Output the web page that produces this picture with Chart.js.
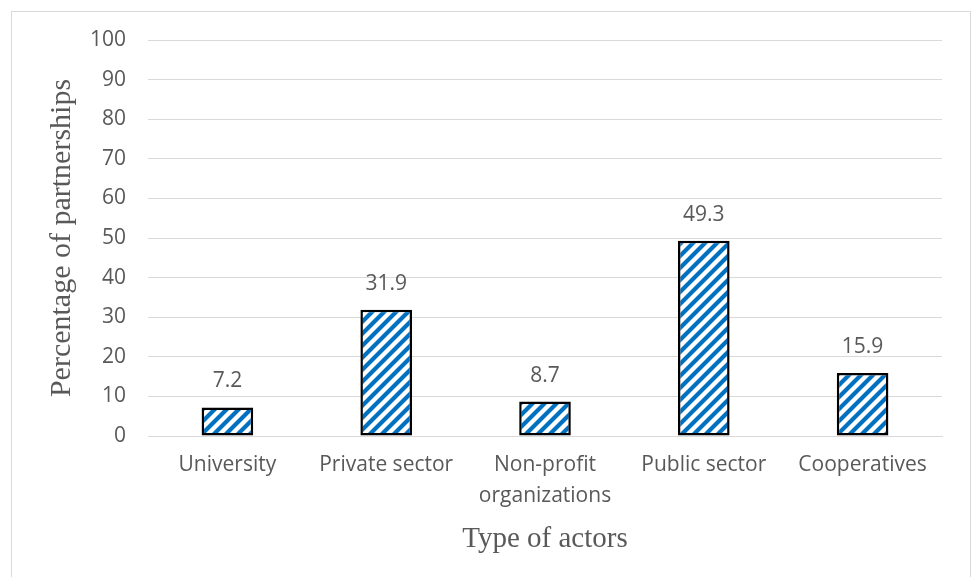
<!DOCTYPE html>
<html>
<head>
<meta charset="utf-8">
<script src="https://cdn.jsdelivr.net/npm/chart.js@4/dist/chart.umd.min.js"></script>
<style>
  html, body { margin: 0; padding: 0; background: #ffffff; }
  #wrap { position: relative; width: 972px; height: 577px; }
</style>
</head>
<body>
<div id="wrap"><canvas id="chart" width="972" height="577"></canvas></div>
<script>
// Partnership shares by type of actor (%)
const categories = ['University', 'Private sector', ['Non-profit', 'organizations'], 'Public sector', 'Cooperatives'];
const shares = [7.2, 31.9, 8.7, 49.3, 15.9];
const yMin = 0;
const yMax = 100;
const yStep = 10;

const xTitle = 'Type of actors';
const yTitle = 'Percentage of partnerships';

const TEXT_GREY = '#595959';
const GRID_GREY = '#d9d9d9';
const STRIPE_BLUE = '#0070C0';

// Diagonal-stripe fill for the bars
function stripePattern() {
  const size = 12;
  const c = document.createElement('canvas');
  c.width = size; c.height = size;
  const g = c.getContext('2d');
  g.fillStyle = '#ffffff';
  g.fillRect(0, 0, size, size);
  g.strokeStyle = STRIPE_BLUE;
  g.lineWidth = 4.2;
  g.beginPath();
  g.moveTo(-3, 3); g.lineTo(3, -3);
  g.moveTo(0, size); g.lineTo(size, 0);
  g.moveTo(size - 3, size + 3); g.lineTo(size + 3, size - 3);
  g.stroke();
  return g.createPattern(c, 'repeat');
}

const ctx = document.getElementById('chart').getContext('2d');

// Light frame around the figure
const framePlugin = {
  id: 'frame',
  beforeDraw(chart) {
    const g = chart.ctx;
    g.save();
    g.strokeStyle = GRID_GREY;
    g.lineWidth = 1;
    g.strokeRect(11.5, 11.5, 959, 600);
    g.restore();
  }
};

// Value labels above each bar
const valueLabels = {
  id: 'valueLabels',
  afterDatasetsDraw(chart) {
    const g = chart.ctx;
    const meta = chart.getDatasetMeta(0);
    const data = chart.data.datasets[0].data;
    g.save();
    g.font = '21px "Open Sans"';
    g.fillStyle = TEXT_GREY;
    g.textAlign = 'center';
    g.textBaseline = 'middle';
    meta.data.forEach((bar, i) => {
      g.fillText(data[i].toFixed(1), bar.x, bar.y - 26);
    });
    g.restore();
  }
};

new Chart(ctx, {
  type: 'bar',
  data: {
    labels: categories,
    datasets: [{
      data: shares,
      backgroundColor: stripePattern(),
      borderColor: '#000000',
      borderWidth: 2.5,
      borderSkipped: false,
      categoryPercentage: 1,
      barPercentage: 0.325
    }]
  },
  options: {
    responsive: false,
    animation: false,
    devicePixelRatio: 1,
    layout: { padding: { left: 0, right: 30, top: 40, bottom: 0 } },
    plugins: {
      legend: { display: false },
      tooltip: { enabled: false }
    },
    scales: {
      x: {
        grid: { display: false, drawTicks: false },
        border: { display: true, color: GRID_GREY, width: 1 },
        ticks: {
          color: TEXT_GREY,
          font: { family: 'Open Sans', size: 21, lineHeight: 1.5 },
          padding: 13,
          maxRotation: 0,
          autoSkip: false
        },
        title: {
          display: true,
          text: xTitle,
          color: TEXT_GREY,
          font: { family: 'Liberation Serif', size: 29 },
          padding: { top: 0, bottom: 20 }
        },
        afterFit(scale) { scale.height = 141; }
      },
      y: {
        min: yMin,
        max: yMax,
        grid: { color: GRID_GREY, lineWidth: 1, drawTicks: false },
        border: { display: false },
        ticks: {
          stepSize: yStep,
          color: TEXT_GREY,
          font: { family: 'Open Sans', size: 21 },
          padding: 22
        },
        title: {
          display: true,
          text: yTitle,
          color: TEXT_GREY,
          font: { family: 'Liberation Serif', size: 30 },
          padding: { top: 44, bottom: 0 }
        },
        afterFit(scale) { scale.width = 148; }
      }
    }
  },
  plugins: [framePlugin, valueLabels]
});
</script>
</body>
</html>
